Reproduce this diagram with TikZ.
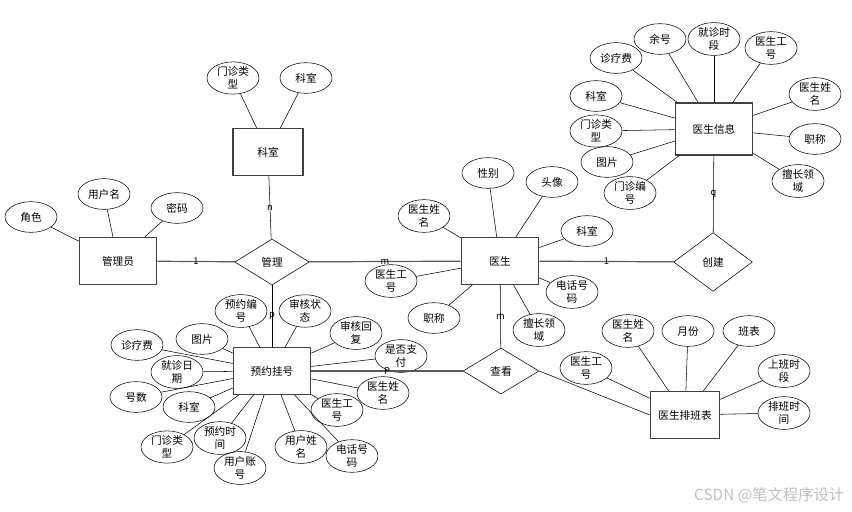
\documentclass[tikz,border=0pt]{standalone}
\usepackage{fontspec}
\setmainfont{Noto Sans CJK SC}
\usepackage{tikz}
\usetikzlibrary{shapes.geometric}
\tikzset{
entity/.style={
draw=black!75,
line width=0.9pt,
minimum width=58pt,
minimum height=35pt,
inner sep=0pt,
align=center,
font=\fontsize{8pt}{10pt}\selectfont
},
attr/.style={
draw,
ellipse,
thin,
minimum width=39pt,
minimum height=23pt,
inner sep=0pt,
align=center,
font=\fontsize{8pt}{10pt}\selectfont
},
rel/.style={
draw,
diamond,
thin,
minimum width=56pt,
minimum height=34.5pt,
inner sep=0pt,
font=\fontsize{8pt}{10pt}\selectfont
},
link/.style={
draw=black!65,
line width=0.9pt
},
alink/.style={
draw,
thin
},
card/.style={
font=\fontsize{7pt}{8pt}\selectfont,
inner sep=0pt
}
}

\begin{document}
\begin{tikzpicture}[x=0.75pt,y=-0.75pt]
\useasboundingbox (0,0) rectangle (852,511);

% entities
\node[entity,minimum width=52.5pt](kes) at (268,152){科室};
\node[entity](gly) at (118,261){管理员};
\node[entity](ys) at (500,261){医生};
\node[entity,minimum height=39pt](ysxx) at (714,129){医生信息};
\node[entity](yygh) at (272,371){预约挂号};
\node[entity,minimum width=52pt](pbb) at (685,415){医生排班表};

% relations
\node[rel](gl) at (272,262){管理};
\node[rel,minimum width=59pt,minimum height=44pt](cj) at (713,262){创建};
\node[rel,minimum width=57pt](ck) at (501,371){查看};

% 管理员
\node[attr](gly1) at (31,217){角色};
\node[attr](gly2) at (104,194){用户名};
\node[attr](gly3) at (177,208){密码};

% 科室
\node[attr](kes1) at (233,78){门诊类\\型};
\node[attr](kes2) at (306,78){科室};

% 医生
\node[attr](ys1) at (488,173){性别};
\node[attr](ys2) at (552,182){头像};
\node[attr](ys3) at (424,216){医生姓\\名};
\node[attr](ys4) at (587,231){科室};
\node[attr](ys5) at (391,281){医生工\\号};
\node[attr](ys6) at (572,292){电话号\\码};
\node[attr](ys7) at (434,318){职称};
\node[attr](ys8) at (539,330){擅长领\\域};

% 医生信息
\node[attr](xx1) at (660,39){余号};
\node[attr](xx2) at (714,39){就诊时\\段};
\node[attr](xx3) at (771,48){医生工\\号};
\node[attr](xx4) at (616,58){诊疗费};
\node[attr](xx5) at (815,94){医生姓\\名};
\node[attr](xx6) at (596,96){科室};
\node[attr](xx7) at (596,131){门诊类\\型};
\node[attr](xx8) at (815,139){职称};
\node[attr](xx9) at (607,162){图片};
\node[attr](xx10) at (630,193){门诊编\\号};
\node[attr](xx11) at (798,181){擅长领\\域};

% 预约挂号
\node[attr](gh1) at (241,311){预约编\\号};
\node[attr](gh2) at (305,311){审核状\\态};
\node[attr](gh3) at (356,333){审核回\\复};
\node[attr](gh4) at (202,339){图片};
\node[attr](gh5) at (137,345){诊疗费};
\node[attr](gh6) at (401,356){是否支\\付};
\node[attr](gh7) at (177,372){就诊日\\期};
\node[attr](gh8) at (136,397){号数};
\node[attr](gh9) at (189,407){科室};
\node[attr](gh10) at (383,393){医生姓\\名};
\node[attr](gh11) at (337,410){医生工\\号};
\node[attr](gh12) at (167,447){门诊类\\型};
\node[attr](gh13) at (220,438){预约时\\间};
\node[attr](gh14) at (240,468){用户账\\号};
\node[attr](gh15) at (301,447){用户姓\\名};
\node[attr](gh16) at (352,456){电话号\\码};

% 医生排班表
\node[attr](pb1) at (628,331){医生姓\\名};
\node[attr](pb2) at (688,331){月份};
\node[attr](pb3) at (749,331){班表};
\node[attr](pb4) at (586,368){医生工\\号};
\node[attr](pb5) at (784,371){上班时\\段};
\node[attr](pb6) at (784,413){排班时\\间};

% attribute lines
\foreach \x in {gly1,gly2,gly3}
\draw[alink](\x)--(gly);
\foreach \x in {kes1,kes2}
\draw[alink](\x)--(kes);
\foreach \x in {ys1,ys2,ys3,ys4,ys5,ys6,ys7,ys8}
\draw[alink](\x)--(ys);
\foreach \x in {xx1,xx2,xx3,xx4,xx5,xx6,xx7,xx8,xx9,xx10,xx11}
\draw[alink](\x)--(ysxx);
\foreach \x in {gh1,gh2,gh3,gh4,gh5,gh6,gh7,gh8,gh9,gh10,gh11,gh12,gh13,gh14,gh15,gh16}
\draw[alink](\x)--(yygh);
\foreach \x in {pb1,pb2,pb3,pb4,pb5,pb6}
\draw[alink](\x)--(pbb);

% relation lines
\foreach \x/\y/\c/\s in {gly/gl/1/link,kes/gl/n/alink,gl/ys/m/link,gl/yygh/p/alink,ys/cj/1/link,ysxx/cj/q/alink,ys/ck/m/alink,yygh/ck/P/link}
\draw[\s](\x)--node[card]{\c}(\y);
\draw[alink](ck.east)--(pbb.west);

\node[text=black!25,font=\fontsize{11.5pt}{13pt}\selectfont,anchor=east](wm) at (849,495){CSDN @笔文程序设计};
\end{tikzpicture}
\end{document}
